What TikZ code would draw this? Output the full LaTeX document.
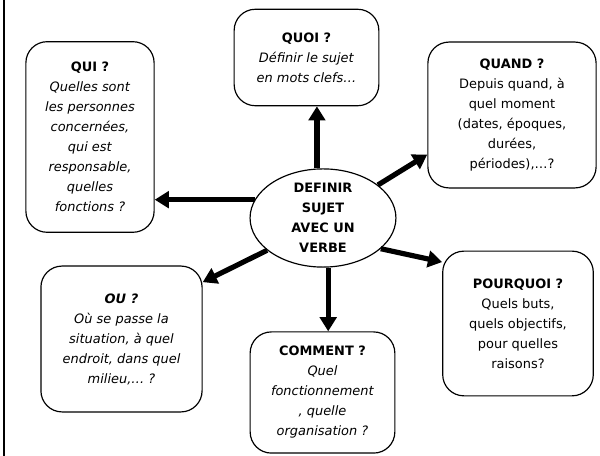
\documentclass[tikz,border=0pt]{standalone}
\usepackage{fontspec}
\setmainfont{DejaVu Sans}
\usetikzlibrary{shapes}
\usetikzlibrary{arrows.meta}

\begin{document}
\begin{tikzpicture}[x=0.85pt,y=-0.85pt]

\tikzstyle{every node}=[font=\fontsize{11}{17}\selectfont, align=center]
\tikzstyle{boite}=[draw, line width=1pt, rounded corners=18pt, inner sep=2pt]
\tikzstyle{fleche}=[line width=4.4pt, -{Triangle[length=12pt,width=14pt]}]

\useasboundingbox (0,0) rectangle (600,456);
\draw[line width=1.6pt] (4,0) -- (4,456);

\node[draw, ellipse, line width=1pt, inner sep=0pt,
	minimum width=124pt, minimum height=82pt,
	font=\fontsize{11}{17}\selectfont\bfseries] (sujet) at (323,218)
		{DEFINIR\\SUJET\\AVEC UN\\VERBE};

\node[boite, minimum width=123pt, minimum height=82pt] (quoi) at (306.5,57.5)
		{\textbf{QUOI ?}\\ \textit{Définir le sujet}\\ \textit{en mots clefs…}};
\node[boite, minimum width=109pt, minimum height=162pt] (qui) at (90,137)
		{\textbf{QUI ?}\\ \textit{Quelles sont}\\ \textit{les personnes}\\
		 \textit{concernées,}\\ \textit{qui est}\\ \textit{responsable,}\\
		 \textit{quelles}\\ \textit{fonctions ?}};
\node[boite, minimum width=143pt, minimum height=124pt] (quand) at (512,115)
		{\textbf{QUAND ?}\\ Depuis quand, à\\ quel moment\\
		 (dates, époques,\\ durées,\\ périodes),…?};
\node[boite, minimum width=137pt, minimum height=124pt] (ou) at (121.5,339)
		{\textbf{\textit{OU ?}}\\ \textit{Où se passe la}\\ \textit{situation, à quel}\\
		 \textit{endroit, dans quel}\\ \textit{milieu,… ?}};
\node[boite, minimum width=123pt, minimum height=103pt] (comment) at (322.5,392.5)
		{\textbf{COMMENT ?}\\ \textit{Quel}\\ \textit{fonctionnement}\\
		 \textit{, quelle}\\ \textit{organisation ?}};
\node[boite, minimum width=128pt, minimum height=123pt] (pourquoi) at (518,323.5)
		{\textbf{POURQUOI ?}\\ Quels buts,\\ quels objectifs,\\
		 pour quelles\\ raisons?};

\draw[fleche] (sujet.97) -- (sujet.97 |- quoi.south);
\draw[fleche] (sujet.165) -- (sujet.165 -| qui.east);
\draw[fleche] (sujet.31) -- (quand.205);
\draw[fleche] (sujet.-28) -- (pourquoi.141);
\draw[fleche] (sujet.-84) -- (sujet.-84 |- comment.north);
\draw[fleche] (sujet.210) -- (ou.35);
\end{tikzpicture}
\end{document}
